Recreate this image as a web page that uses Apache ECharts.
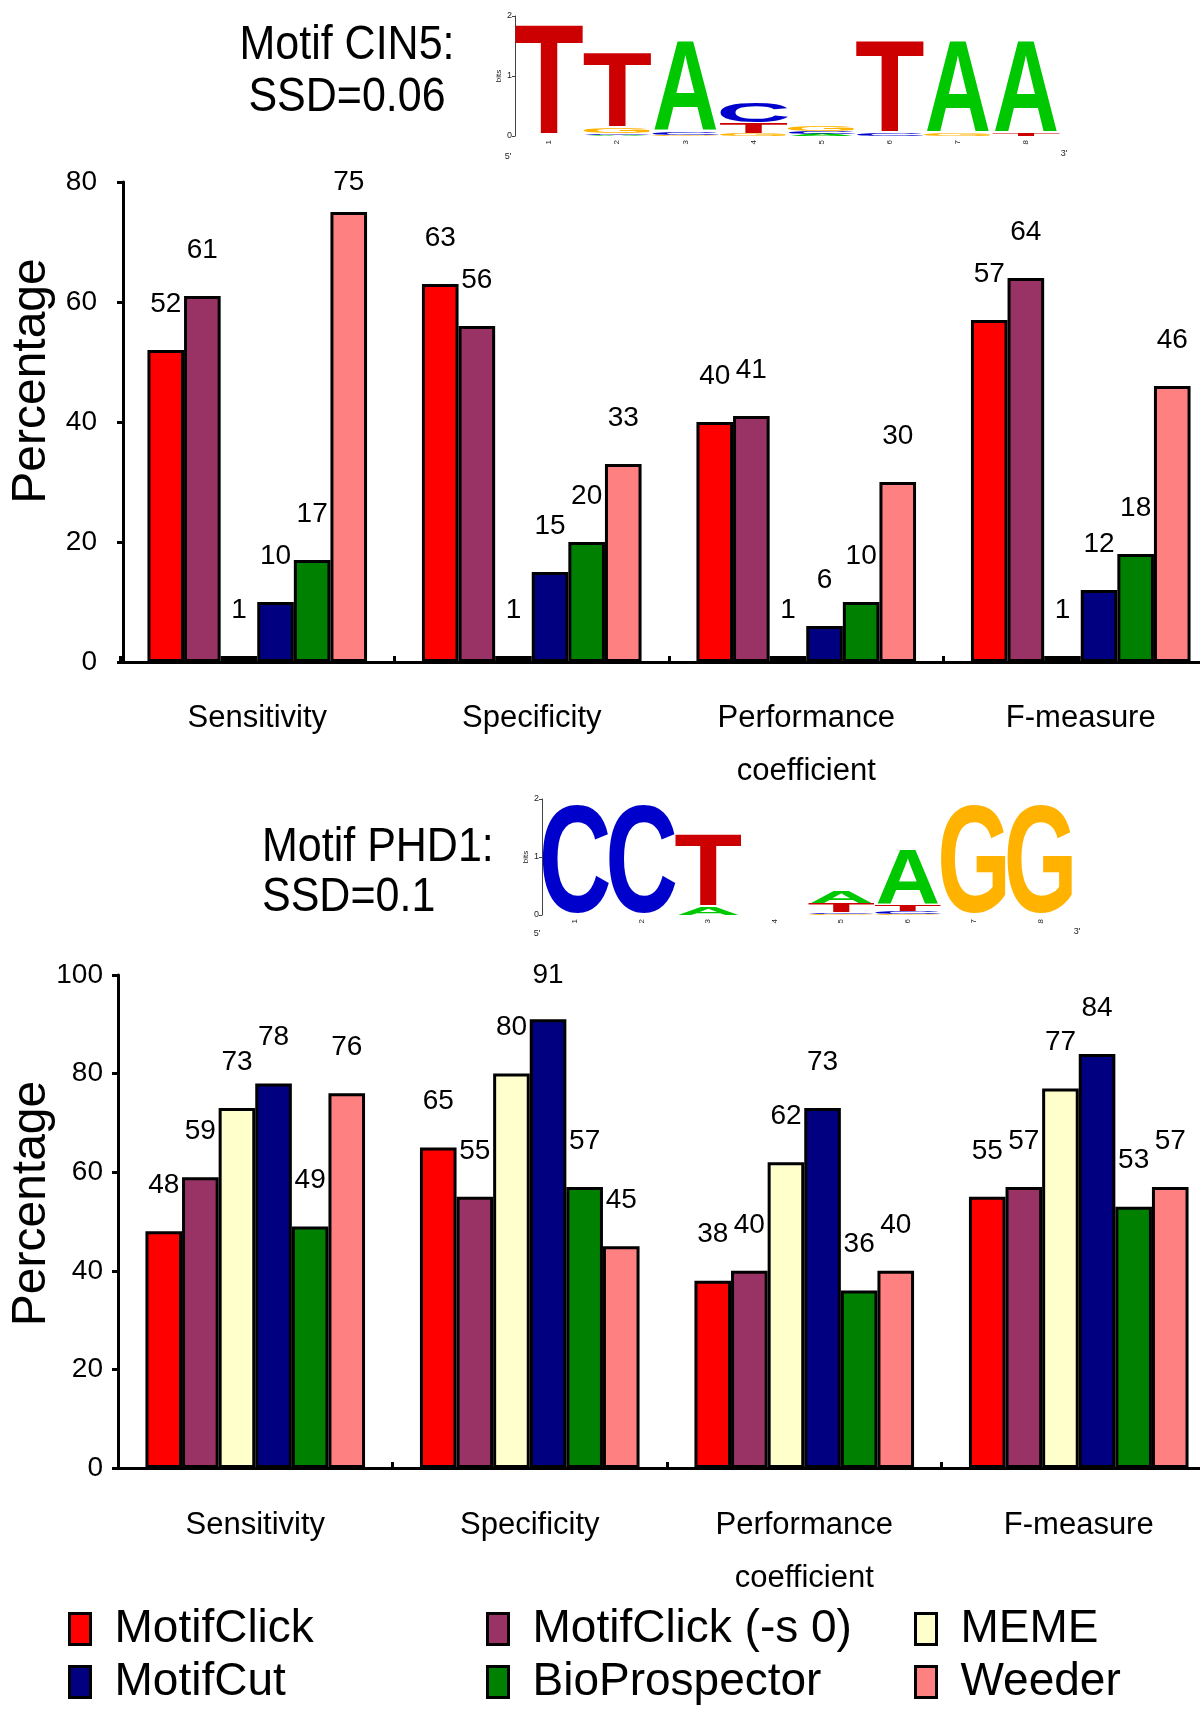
<!DOCTYPE html>
<html>
<head>
<meta charset="utf-8">
<script src="https://cdn.jsdelivr.net/npm/echarts@6/dist/echarts.min.js"></script>
<style>html,body{margin:0;padding:0;background:#fff}#c{width:1200px;height:1723px}</style>
</head>
<body>
<div id="c"></div>
<script>
// ---------------- data ----------------
const categories = ['Sensitivity', 'Specificity', 'Performance\ncoefficient', 'F-measure'];
const seriesNames = ['MotifClick', 'MotifClick (-s 0)', 'MEME', 'MotifCut', 'BioProspector', 'Weeder'];

// Motif CIN5 (top chart)
const cin5MotifClick     = [52, 63, 40, 57];
const cin5MotifClickS0   = [61, 56, 41, 64];
const cin5MEME           = [1, 1, 1, 1];
const cin5MotifCut       = [10, 15, 6, 12];
const cin5BioProspector  = [17, 20, 10, 18];
const cin5Weeder         = [75, 33, 30, 46];

// Motif PHD1 (bottom chart)
const phd1MotifClick     = [48, 65, 38, 55];
const phd1MotifClickS0   = [59, 55, 40, 57];
const phd1MEME           = [73, 80, 62, 77];
const phd1MotifCut       = [78, 91, 73, 84];
const phd1BioProspector  = [49, 57, 36, 53];
const phd1Weeder         = [76, 45, 40, 57];

// y tick settings
const cin5Max = 80, phd1Max = 100, yInterval = 20;

// sequence logos: [position, letter, height in bits], stacked bottom to top
const logoPositions = ['1', '2', '3', '4', '5', '6', '7', '8'];
const cin5Logo = [
  [1, 'T', 1.87],
  [2, 'A', 0.02], [2, 'C', 0.03], [2, 'G', 0.08], [2, 'T', 1.26],
  [3, 'G', 0.02], [3, 'C', 0.04], [3, 'A', 1.53],
  [4, 'G', 0.04], [4, 'T', 0.18], [4, 'C', 0.34],
  [5, 'A', 0.04], [5, 'C', 0.04], [5, 'G', 0.08],
  [6, 'C', 0.04], [6, 'T', 1.55],
  [7, 'G', 0.04], [7, 'A', 1.55],
  [8, 'T', 0.05], [8, 'A', 1.54]
];
const phd1Logo = [
  [1, 'C', 1.87],
  [2, 'C', 1.87],
  [3, 'A', 0.14], [3, 'T', 1.25],
  [5, 'G', 0.02], [5, 'C', 0.03], [5, 'T', 0.15], [5, 'A', 0.20],
  [6, 'G', 0.02], [6, 'C', 0.04], [6, 'T', 0.11], [6, 'A', 0.97],
  [7, 'G', 1.87],
  [8, 'G', 1.87]
];

// ---------------- styles ----------------
const colors = ['#FF0000', '#993366', '#FFFFCC', '#000080', '#008000', '#FF8080'];
const letterColors = { A: '#00C800', C: '#0000CC', G: '#FFB300', T: '#CC0000' };
const letterInk = { A: 0.72, C: 0.64, G: 0.68, T: 0.58 };
const FONT = '"Liberation Sans", Arial, sans-serif';

const grids = [
  { left: 120, top: 182, width: 1098, height: 480, outerBoundsMode: 'none', containLabel: false },
  { left: 118, top: 975, width: 1098, height: 493, outerBoundsMode: 'none', containLabel: false },
  { left: 515, top: 16, width: 545, height: 120, outerBoundsMode: 'none', containLabel: false },
  { left: 542, top: 799, width: 532, height: 116, outerBoundsMode: 'none', containLabel: false }
];

const LABEL_DIST = 32, LABEL_LH = 28;
function barData(values, grid, max) {
  const ppu = grid.height / max;
  return values.map(v => {
    const centerAbove = v * ppu + LABEL_DIST + LABEL_LH / 2;
    const shift = Math.max(0, centerAbove - grid.height);
    return { value: v, label: { offset: [0, shift] } };
  });
}

function barSeries(name, values, idx, gridIdx, max) {
  return {
    type: 'bar', name: name, xAxisIndex: gridIdx, yAxisIndex: gridIdx,
    data: barData(values, grids[gridIdx], max),
    barGap: '0%', barCategoryGap: '20%',
    itemStyle: { color: colors[idx], borderColor: '#000', borderWidth: 3 },
    label: {
      show: true, position: 'top', distance: LABEL_DIST,
      fontSize: 28, lineHeight: LABEL_LH, color: '#000', fontFamily: FONT
    },
    emphasis: { disabled: true }
  };
}

function stackLogo(rows) {
  const acc = {};
  return rows.map(([p, l, h]) => {
    const y0 = acc[p] || 0;
    acc[p] = y0 + h;
    return [p - 1, y0, y0 + h, 'ACGT'.indexOf(l)];
  });
}

function renderLetter(params, api) {
  const ci = api.value(0), y0 = api.value(1), y1 = api.value(2), li = api.value(3);
  const L = 'ACGT'[li];
  const bw = api.size([1, 0])[0];
  const a = api.coord([ci, y0]), b = api.coord([ci, y1]);
  const h = a[1] - b[1];
  if (h < 0.5) return null;
  const F = 100;
  const w = bw * 0.97;
  const sx = w / (letterInk[L] * F);
  const sy = h / (0.716 * F);
  return {
    type: 'text', x: a[0], y: (a[1] + b[1]) / 2 + 0.064 * F * sy, scaleX: sx, scaleY: sy,
    style: { text: L, font: 'bold 100px ' + FONT, fill: letterColors[L], align: 'center', verticalAlign: 'middle' }
  };
}

const barValues = [
  [cin5MotifClick, cin5MotifClickS0, cin5MEME, cin5MotifCut, cin5BioProspector, cin5Weeder],
  [phd1MotifClick, phd1MotifClickS0, phd1MEME, phd1MotifCut, phd1BioProspector, phd1Weeder]
];
const maxes = [cin5Max, phd1Max];

const series = [];
for (let g = 0; g < 2; g++) {
  for (let i = 0; i < 6; i++) series.push(barSeries(seriesNames[i], barValues[g][i], i, g, maxes[g]));
}
series.push({ type: 'custom', name: 'CIN5 logo', xAxisIndex: 2, yAxisIndex: 2, data: stackLogo(cin5Logo), renderItem: renderLetter, silent: true });
series.push({ type: 'custom', name: 'PHD1 logo', xAxisIndex: 3, yAxisIndex: 3, data: stackLogo(phd1Logo), renderItem: renderLetter, silent: true });

function barXAxis(gridIndex, margin) {
  return {
    type: 'category', gridIndex: gridIndex, data: categories,
    axisLine: { lineStyle: { color: '#000', width: 3 } },
    axisTick: { show: true, inside: true, length: 6, lineStyle: { color: '#000', width: 3 } },
    axisLabel: { interval: 0, fontSize: 31, lineHeight: 53, color: '#000', margin: margin, fontFamily: FONT },
    splitLine: { show: false }
  };
}
function barYAxis(gridIndex, max, margin, namePad, nameGap, offset) {
  return {
    type: 'value', gridIndex: gridIndex, min: 0, max: max, interval: yInterval, offset: offset,
    name: 'Percentage', nameLocation: 'middle', nameGap: nameGap, nameMoveOverlap: false,
    nameTextStyle: { fontSize: 48, color: '#000', fontFamily: FONT, padding: [0, 0, 0, namePad] },
    axisLine: { show: true, lineStyle: { color: '#000', width: 3 } },
    axisTick: { show: true, length: 6, lineStyle: { color: '#000', width: 3 } },
    axisLabel: { fontSize: 28, color: '#000', margin: margin, fontFamily: FONT },
    splitLine: { show: false }
  };
}
function logoXAxis(gridIndex) {
  return {
    type: 'category', gridIndex: gridIndex, data: logoPositions,
    axisLine: { show: false }, axisTick: { show: false },
    axisLabel: { interval: 0, rotate: 90, fontSize: 8, color: '#222', margin: 4, fontFamily: FONT }
  };
}
function logoYAxis(gridIndex) {
  return {
    type: 'value', gridIndex: gridIndex, min: 0, max: 2, interval: 1,
    name: 'bits', nameLocation: 'middle', nameGap: 12,
    nameTextStyle: { fontSize: 8, color: '#222', fontFamily: FONT },
    axisLine: { show: true, lineStyle: { color: '#444', width: 1 } },
    axisTick: { show: true, length: 3, lineStyle: { color: '#444', width: 1 } },
    axisLabel: { fontSize: 9, color: '#222', margin: 3, fontFamily: FONT },
    splitLine: { show: false }
  };
}

function legendItem(name, left, centerY) {
  return {
    data: [name], orient: 'horizontal', left: left, top: centerY - 26, padding: 0,
    itemWidth: 21, itemHeight: 31, selectedMode: false,
    icon: 'rect',
    itemStyle: { borderColor: '#000', borderWidth: 3 },
    textStyle: { fontSize: 46, lineHeight: 52, color: '#000', fontFamily: FONT, padding: [0, 0, 0, 19] }
  };
}

const titleStyle = (t, align) => ({ text: t, font: '43px ' + FONT, fill: '#000', align: align, verticalAlign: 'middle' });

const option = {
  animation: false,
  backgroundColor: '#fff',
  textStyle: { fontFamily: FONT },
  grid: grids,
  xAxis: [barXAxis(0, 30), barXAxis(1, 31), logoXAxis(2), logoXAxis(3)],
  yAxis: [barYAxis(0, cin5Max, 26, 82, 67, -3), barYAxis(1, phd1Max, 15, 36, 62, 0), logoYAxis(2), logoYAxis(3)],
  legend: [
    legendItem('MotifClick', 68, 1629),
    legendItem('MotifCut', 68, 1682),
    legendItem('MotifClick (-s 0)', 486, 1629),
    legendItem('BioProspector', 486, 1682),
    legendItem('MEME', 914, 1629),
    legendItem('Weeder', 914, 1682)
  ],
  graphic: [
    { type: 'text', x: 347, y: 46, scaleY: 1.13, style: titleStyle('Motif CIN5:', 'center') },
    { type: 'text', x: 347, y: 98, scaleY: 1.13, style: titleStyle('SSD=0.06', 'center') },
    { type: 'text', x: 262, y: 848, scaleY: 1.13, style: titleStyle('Motif PHD1:', 'left') },
    { type: 'text', x: 262, y: 898, scaleY: 1.13, style: titleStyle('SSD=0.1', 'left') },
    { type: 'text', x: 508, y: 157, style: { text: "5'", font: '9px ' + FONT, fill: '#222', align: 'center', verticalAlign: 'middle' } },
    { type: 'text', x: 1064, y: 154, style: { text: "3'", font: '9px ' + FONT, fill: '#222', align: 'center', verticalAlign: 'middle' } },
    { type: 'text', x: 537, y: 934, style: { text: "5'", font: '9px ' + FONT, fill: '#222', align: 'center', verticalAlign: 'middle' } },
    { type: 'text', x: 1077, y: 932, style: { text: "3'", font: '9px ' + FONT, fill: '#222', align: 'center', verticalAlign: 'middle' } }
  ],
  series: series
};

const chart = echarts.init(document.getElementById('c'), null, { renderer: 'canvas' });
chart.setOption(option);
</script>
</body>
</html>
